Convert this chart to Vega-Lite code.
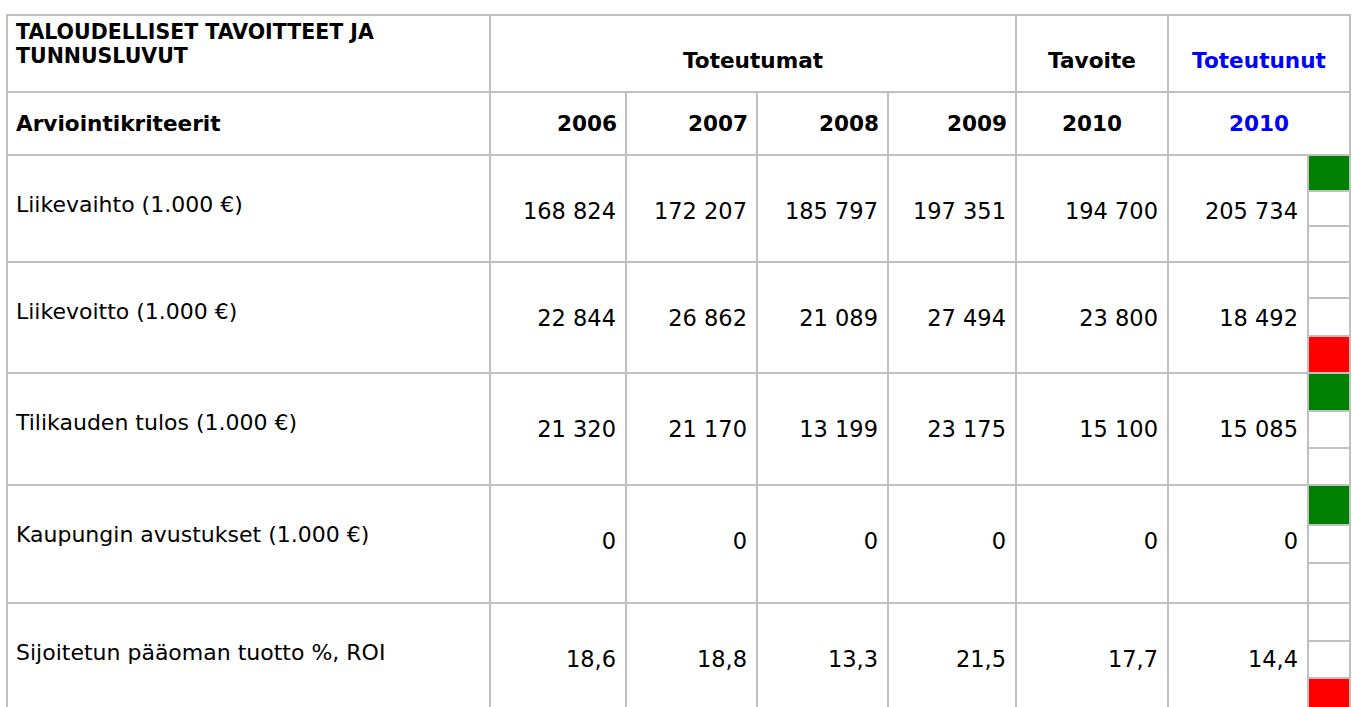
{
  "$schema": "https://vega.github.io/schema/vega-lite/v6.json",
  "width": 1352,
  "height": 707,
  "padding": 0,
  "autosize": {"type": "none"},
  "background": "white",
  "config": {
    "view": {"stroke": null},
    "text": {"font": "DejaVu Sans"},
    "locale": {"number": {"decimal": ",", "thousands": " ", "grouping": [3], "currency": ["", " €"]}}
  },
  "datasets": {
    "columns": [
      {"period": "2006", "c0": 1, "c1": 2},
      {"period": "2007", "c0": 2, "c1": 3},
      {"period": "2008", "c0": 3, "c1": 4},
      {"period": "2009", "c0": 4, "c1": 5},
      {"period": "2010 Tavoite", "c0": 5, "c1": 6},
      {"period": "2010 Toteutunut", "c0": 6, "c1": 7}
    ],
    "metrics": [
      {"metric": "Liikevaihto (1.000 €)", "r0": 2, "r1": 5, "unit": "keur"},
      {"metric": "Liikevoitto (1.000 €)", "r0": 5, "r1": 8, "unit": "keur"},
      {"metric": "Tilikauden tulos (1.000 €)", "r0": 8, "r1": 11, "unit": "keur"},
      {"metric": "Kaupungin avustukset (1.000 €)", "r0": 11, "r1": 14, "unit": "keur"},
      {"metric": "Sijoitetun pääoman tuotto %, ROI", "r0": 14, "r1": 17, "unit": "pct"}
    ],
    "values": [
      {"metric": "Liikevaihto (1.000 €)", "period": "2006", "value": 168824},
      {"metric": "Liikevaihto (1.000 €)", "period": "2007", "value": 172207},
      {"metric": "Liikevaihto (1.000 €)", "period": "2008", "value": 185797},
      {"metric": "Liikevaihto (1.000 €)", "period": "2009", "value": 197351},
      {"metric": "Liikevaihto (1.000 €)", "period": "2010 Tavoite", "value": 194700},
      {"metric": "Liikevaihto (1.000 €)", "period": "2010 Toteutunut", "value": 205734},
      {"metric": "Liikevoitto (1.000 €)", "period": "2006", "value": 22844},
      {"metric": "Liikevoitto (1.000 €)", "period": "2007", "value": 26862},
      {"metric": "Liikevoitto (1.000 €)", "period": "2008", "value": 21089},
      {"metric": "Liikevoitto (1.000 €)", "period": "2009", "value": 27494},
      {"metric": "Liikevoitto (1.000 €)", "period": "2010 Tavoite", "value": 23800},
      {"metric": "Liikevoitto (1.000 €)", "period": "2010 Toteutunut", "value": 18492},
      {"metric": "Tilikauden tulos (1.000 €)", "period": "2006", "value": 21320},
      {"metric": "Tilikauden tulos (1.000 €)", "period": "2007", "value": 21170},
      {"metric": "Tilikauden tulos (1.000 €)", "period": "2008", "value": 13199},
      {"metric": "Tilikauden tulos (1.000 €)", "period": "2009", "value": 23175},
      {"metric": "Tilikauden tulos (1.000 €)", "period": "2010 Tavoite", "value": 15100},
      {"metric": "Tilikauden tulos (1.000 €)", "period": "2010 Toteutunut", "value": 15085},
      {"metric": "Kaupungin avustukset (1.000 €)", "period": "2006", "value": 0},
      {"metric": "Kaupungin avustukset (1.000 €)", "period": "2007", "value": 0},
      {"metric": "Kaupungin avustukset (1.000 €)", "period": "2008", "value": 0},
      {"metric": "Kaupungin avustukset (1.000 €)", "period": "2009", "value": 0},
      {"metric": "Kaupungin avustukset (1.000 €)", "period": "2010 Tavoite", "value": 0},
      {"metric": "Kaupungin avustukset (1.000 €)", "period": "2010 Toteutunut", "value": 0},
      {"metric": "Sijoitetun pääoman tuotto %, ROI", "period": "2006", "value": 18.6},
      {"metric": "Sijoitetun pääoman tuotto %, ROI", "period": "2007", "value": 18.8},
      {"metric": "Sijoitetun pääoman tuotto %, ROI", "period": "2008", "value": 13.3},
      {"metric": "Sijoitetun pääoman tuotto %, ROI", "period": "2009", "value": 21.5},
      {"metric": "Sijoitetun pääoman tuotto %, ROI", "period": "2010 Tavoite", "value": 17.7},
      {"metric": "Sijoitetun pääoman tuotto %, ROI", "period": "2010 Toteutunut", "value": 14.4}
    ],
    "status": [
      {"metric": "Liikevaihto (1.000 €)", "r0": 2, "r1": 3, "status": "good"},
      {"metric": "Liikevaihto (1.000 €)", "r0": 3, "r1": 4, "status": "none"},
      {"metric": "Liikevaihto (1.000 €)", "r0": 4, "r1": 5, "status": "none"},
      {"metric": "Liikevoitto (1.000 €)", "r0": 5, "r1": 6, "status": "none"},
      {"metric": "Liikevoitto (1.000 €)", "r0": 6, "r1": 7, "status": "none"},
      {"metric": "Liikevoitto (1.000 €)", "r0": 7, "r1": 8, "status": "bad"},
      {"metric": "Tilikauden tulos (1.000 €)", "r0": 8, "r1": 9, "status": "good"},
      {"metric": "Tilikauden tulos (1.000 €)", "r0": 9, "r1": 10, "status": "none"},
      {"metric": "Tilikauden tulos (1.000 €)", "r0": 10, "r1": 11, "status": "none"},
      {"metric": "Kaupungin avustukset (1.000 €)", "r0": 11, "r1": 12, "status": "good"},
      {"metric": "Kaupungin avustukset (1.000 €)", "r0": 12, "r1": 13, "status": "none"},
      {"metric": "Kaupungin avustukset (1.000 €)", "r0": 13, "r1": 14, "status": "none"},
      {"metric": "Sijoitetun pääoman tuotto %, ROI", "r0": 14, "r1": 15, "status": "none"},
      {"metric": "Sijoitetun pääoman tuotto %, ROI", "r0": 15, "r1": 16, "status": "none"},
      {"metric": "Sijoitetun pääoman tuotto %, ROI", "r0": 16, "r1": 17, "status": "bad"}
    ],
    "hcells": [
      {"c0": 0, "c1": 1, "r0": 0, "r1": 1},
      {"c0": 1, "c1": 5, "r0": 0, "r1": 1},
      {"c0": 5, "c1": 6, "r0": 0, "r1": 1},
      {"c0": 6, "c1": 8, "r0": 0, "r1": 1},
      {"c0": 0, "c1": 1, "r0": 1, "r1": 2},
      {"c0": 1, "c1": 2, "r0": 1, "r1": 2},
      {"c0": 2, "c1": 3, "r0": 1, "r1": 2},
      {"c0": 3, "c1": 4, "r0": 1, "r1": 2},
      {"c0": 4, "c1": 5, "r0": 1, "r1": 2},
      {"c0": 5, "c1": 6, "r0": 1, "r1": 2},
      {"c0": 6, "c1": 8, "r0": 1, "r1": 2}
    ],
    "years": [
      {"text": "2006", "c1": 2},
      {"text": "2007", "c1": 3},
      {"text": "2008", "c1": 4},
      {"text": "2009", "c1": 5}
    ],
    "tavoite": [
      {"text": "Tavoite", "r1": 1},
      {"text": "2010", "r1": 2}
    ],
    "toteutunut": [
      {"text": "Toteutunut", "r1": 1},
      {"text": "2010", "r1": 2}
    ]
  },
  "layer": [
    {
      "data": {"name": "hcells"},
      "mark": {"type": "rect", "fill": "white", "stroke": "#c0c0c0", "strokeWidth": 2},
      "encoding": {
        "x": {"field": "c0", "type": "quantitative", "axis": null,
              "scale": {"domain": [0, 1, 2, 3, 4, 5, 6, 7, 8], "range": [7, 490, 626, 757, 888, 1016, 1168, 1308, 1350], "nice": false, "zero": false}},
        "x2": {"field": "c1"},
        "y": {"field": "r0", "type": "quantitative", "axis": null,
              "scale": {"domain": [0, 1, 2, 3, 4, 5, 6, 7, 8, 9, 10, 11, 12, 13, 14, 15, 16, 17], "range": [15, 92, 155, 191, 226, 262, 298, 336, 373, 411, 448, 485, 525, 563, 603, 641, 678, 716], "nice": false, "zero": false}},
        "y2": {"field": "r1"}
      }
    },
    {
      "data": {"name": "metrics"},
      "mark": {"type": "rect", "fill": "white", "stroke": "#c0c0c0", "strokeWidth": 2},
      "encoding": {
        "x": {"datum": 0, "type": "quantitative", "axis": null},
        "x2": {"datum": 1},
        "y": {"field": "r0", "type": "quantitative", "axis": null},
        "y2": {"field": "r1"}
      }
    },
    {
      "data": {"name": "values"},
      "transform": [
        {"lookup": "period", "from": {"data": {"name": "columns"}, "key": "period", "fields": ["c0", "c1"]}},
        {"lookup": "metric", "from": {"data": {"name": "metrics"}, "key": "metric", "fields": ["r0", "r1", "unit"]}}
      ],
      "mark": {"type": "rect", "fill": "white", "stroke": "#c0c0c0", "strokeWidth": 2},
      "encoding": {
        "x": {"field": "c0", "type": "quantitative", "axis": null},
        "x2": {"field": "c1"},
        "y": {"field": "r0", "type": "quantitative", "axis": null},
        "y2": {"field": "r1"}
      }
    },
    {
      "data": {"name": "status"},
      "mark": {"type": "rect", "stroke": "#c0c0c0", "strokeWidth": 2},
      "encoding": {
        "x": {"datum": 7, "type": "quantitative", "axis": null},
        "x2": {"datum": 8},
        "y": {"field": "r0", "type": "quantitative", "axis": null},
        "y2": {"field": "r1"},
        "fill": {"field": "status", "type": "nominal", "legend": null,
                 "scale": {"domain": ["none", "good", "bad"], "range": ["#ffffff", "#008000", "#ff0000"]}}
      }
    },
    {
      "data": {"name": "metrics"},
      "mark": {"type": "text", "align": "left", "baseline": "middle", "fontSize": 22, "dx": 9, "dy": 50, "color": "#000000"},
      "encoding": {
        "x": {"datum": 0, "type": "quantitative", "axis": null},
        "y": {"field": "r0", "type": "quantitative", "axis": null},
        "text": {"field": "metric"}
      }
    },
    {
      "data": {"name": "values"},
      "transform": [
        {"lookup": "period", "from": {"data": {"name": "columns"}, "key": "period", "fields": ["c0", "c1"]}},
        {"lookup": "metric", "from": {"data": {"name": "metrics"}, "key": "metric", "fields": ["r0", "r1", "unit"]}},
        {"filter": {"field": "unit", "equal": "keur"}}
      ],
      "mark": {"type": "text", "align": "right", "baseline": "middle", "fontSize": 22.5, "dx": -10, "dy": 57, "color": "#000000"},
      "encoding": {
        "x": {"field": "c1", "type": "quantitative", "axis": null},
        "y": {"field": "r0", "type": "quantitative", "axis": null},
        "text": {"field": "value", "type": "quantitative", "format": ",d"}
      }
    },
    {
      "data": {"name": "values"},
      "transform": [
        {"lookup": "period", "from": {"data": {"name": "columns"}, "key": "period", "fields": ["c0", "c1"]}},
        {"lookup": "metric", "from": {"data": {"name": "metrics"}, "key": "metric", "fields": ["r0", "r1", "unit"]}},
        {"filter": {"field": "unit", "equal": "pct"}}
      ],
      "mark": {"type": "text", "align": "right", "baseline": "middle", "fontSize": 22.5, "dx": -10, "dy": 57, "color": "#000000"},
      "encoding": {
        "x": {"field": "c1", "type": "quantitative", "axis": null},
        "y": {"field": "r0", "type": "quantitative", "axis": null},
        "text": {"field": "value", "type": "quantitative", "format": ",.1f"}
      }
    },
    {
      "data": {"values": [{"text": "TALOUDELLISET TAVOITTEET JA\nTUNNUSLUVUT"}]},
      "mark": {"type": "text", "align": "left", "baseline": "top", "fontSize": 20.5, "fontWeight": "bold", "lineHeight": 24, "lineBreak": "\n", "dx": 9, "dy": 8, "color": "#000000"},
      "encoding": {
        "x": {"datum": 0, "type": "quantitative", "axis": null},
        "y": {"datum": 0, "type": "quantitative", "axis": null},
        "text": {"field": "text"}
      }
    },
    {
      "data": {"values": [{"text": "Arviointikriteerit"}]},
      "mark": {"type": "text", "align": "left", "baseline": "middle", "fontSize": 21.6, "fontWeight": "bold", "dx": 9, "dy": -30, "color": "#000000"},
      "encoding": {
        "x": {"datum": 0, "type": "quantitative", "axis": null},
        "y": {"datum": 2, "type": "quantitative", "axis": null},
        "text": {"field": "text"}
      }
    },
    {
      "data": {"values": [{"text": "Toteutumat"}]},
      "mark": {"type": "text", "align": "center", "baseline": "middle", "fontSize": 21.6, "fontWeight": "bold", "dx": 263, "dy": -30, "color": "#000000"},
      "encoding": {
        "x": {"datum": 1, "type": "quantitative", "axis": null},
        "y": {"datum": 1, "type": "quantitative", "axis": null},
        "text": {"field": "text"}
      }
    },
    {
      "data": {"name": "years"},
      "mark": {"type": "text", "align": "right", "baseline": "middle", "fontSize": 21.6, "fontWeight": "bold", "dx": -9, "dy": -30, "color": "#000000"},
      "encoding": {
        "x": {"field": "c1", "type": "quantitative", "axis": null},
        "y": {"datum": 2, "type": "quantitative", "axis": null},
        "text": {"field": "text"}
      }
    },
    {
      "data": {"name": "tavoite"},
      "mark": {"type": "text", "align": "center", "baseline": "middle", "fontSize": 21.6, "fontWeight": "bold", "dx": 76, "dy": -30, "color": "#000000"},
      "encoding": {
        "x": {"datum": 5, "type": "quantitative", "axis": null},
        "y": {"field": "r1", "type": "quantitative", "axis": null},
        "text": {"field": "text"}
      }
    },
    {
      "data": {"name": "toteutunut"},
      "mark": {"type": "text", "align": "center", "baseline": "middle", "fontSize": 21.6, "fontWeight": "bold", "dx": 91, "dy": -30, "color": "#0000ff"},
      "encoding": {
        "x": {"datum": 6, "type": "quantitative", "axis": null},
        "y": {"field": "r1", "type": "quantitative", "axis": null},
        "text": {"field": "text"}
      }
    }
  ]
}
